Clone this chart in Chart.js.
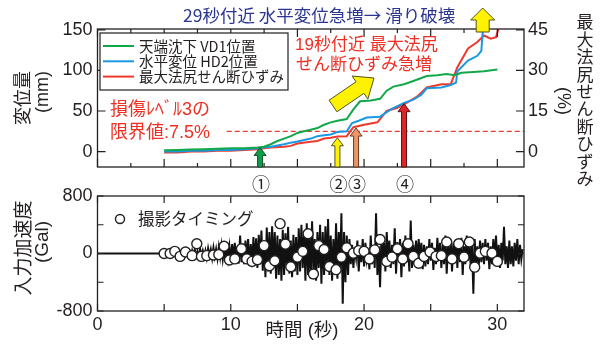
<!DOCTYPE html>
<html>
<head>
<meta charset="utf-8">
<script src="https://cdn.jsdelivr.net/npm/chart.js@4.4.1/dist/chart.umd.min.js"></script>
<style>
body { margin: 0; background: #fff; }
#wrap { position: relative; width: 600px; height: 345px; }
canvas { position: absolute; left: 0; top: 0; }
</style>
</head>
<body>
<div id="wrap">
  <canvas id="dispChart" width="600" height="345"></canvas>
  <canvas id="accChart" width="600" height="345"></canvas>
</div>
<script>
// ---- top panel: displacement (mm) and shear strain (%) ----
const greenTimes = [5, 6, 7, 8, 9, 10, 11, 12, 12.5, 13, 13.5, 14, 14.5, 15, 15.5, 16, 16.5, 17, 17.5, 18,
  18.7, 19.2, 19.7, 20.5, 21.2, 21.7, 22.2, 23, 23.7, 24.2, 24.7, 25.5, 26.2, 26.8, 27.3, 28.2, 29, 30];
const greenMm = [1.5, 2, 2.5, 3, 3.5, 4, 4, 5, 6, 9, 13, 16, 19, 23, 25, 27, 29, 33, 36, 38,
  40, 52, 62, 63, 65, 75, 80, 83, 87, 90, 93, 94, 95.5, 94, 97, 98, 99, 101];

const blueTimes = [5, 6, 7, 8, 9, 10, 11, 12, 12.5, 13, 14, 14.5, 15, 16, 16.5, 17, 17.5, 18,
  18.7, 19.1, 19.6, 20.2, 21.2, 22, 22.5, 23, 23.7, 24.3, 24.7, 25.8, 26.5, 26.9, 27, 27.8, 28.5, 28.8, 28.9, 29.1];
const blueMm = [0, 0, 1, 1, 2, 2, 3, 4, 5, 6, 9, 11, 12.5, 16, 19, 20, 21, 24,
  25, 35, 38, 42, 43, 52, 56, 60, 64, 70, 78, 79, 82, 85, 99, 112, 118, 124, 147, 165];

const redTimes = [5, 6, 7, 8, 9, 10, 11, 12, 12.5, 13, 14, 14.5, 15, 16, 16.5, 17, 17.5, 18,
  18.7, 19.2, 20, 21, 21.7, 22.5, 23, 24, 24.7, 25.8, 26.5, 27, 27.8, 28.5, 29, 29.5, 29.9, 30.1];
const redPct = [-0.3, -0.3, 0, 0, 0.3, 0.3, 0.6, 0.9, 1.2, 1.5, 1.8, 2.1, 3, 3.6, 3.9, 4.8, 5.1, 5.6,
  5.7, 9, 9.9, 10.8, 15, 16.2, 17.4, 20.4, 23.7, 24.9, 24.9, 31.2, 38.1, 40.5, 42.9, 41.7, 42.3, 45.6];

const thresholdPct = 7.5;
const thresholdFrom = 9.7;

// photo moments (1)-(4) and where their arrows point (mm)
const momentTimes = [12.2, 18.0, 19.4, 23.0];
const momentTipsMm = [5, 17, 29, 59];
const momentLabels = ["①", "②", "③", "④"];
const failureTime = 28.9;

// ---- bottom panel: input acceleration (Gal) ----
const quietTimes = [0, 5];
const quietAccel = [0, 0];
const accelStart = 5;
const accelStep = 0.1;
const accelGal = [
  0, 8, -12, 15, -5, 10, -18, 12, -8, 20,
  -15, 25, -10, 30, -25, 15, -20, 30, -35, 20,
  -30, 45, -20, 55, -40, 30, -50, 65, -30, 40,
  -50, 40, -60, 70, -30, 55, -65, 80, -45, 60,
  -70, 90, -50, 110, -80, 60, -100, 120, -70, 95,
  -100, 130, -80, 150, -110, 90, -140, 250, -120, 140,
  -150, 180, -100, 200, -170, 130, -190, 230, -160, 210,
  -200, 260, -150, 320, -240, 180, -330, 360, -250, 300,
  -280, 380, -200, 300, -350, 250, -300, 200, -380, 330,
  -300, 280, -200, 370, -280, 180, -330, 260, -250, 230,
  -300, 350, -250, 400, -200, 300, -380, 420, -300, 250,
  -350, 450, -250, 200, -380, 300, -200, 400, -420, 300,
  -300, 380, -200, 480, -300, 250, -380, 200, -280, 420,
  -350, 300, -200, 560, -700, 300, -400, 250, -300, 200,
  -150, 120, -200, 80, -60, 180, -250, 100, -120, 200,
  -180, 150, -80, 60, -220, 250, -150, 100, -200, 560,
  -300, 100, -470, 200, -100, 150, -250, 300, -120, 180,
  -200, 120, -150, 350, -280, 160, -100, 200, -330, 150,
  -180, 250, -120, 100, -250, 460, -200, 120, -150, 180,
  -120, 200, -80, 150, -220, 120, -180, 100, -150, 200,
  -100, 150, -230, 80, -150, 220, -80, 150, -200, 120,
  -150, 250, -280, 100, -120, 180, -250, 150, -100, 200,
  -200, 180, -120, 220, -300, 100, -150, 250, -100, 150,
  -180, 120, -560, 200, -150, 100, -200, 180, -120, 150,
  -150, 200, -100, 150, -220, 100, -150, 200, -80, 250,
  -180, 120, -200, 150, -100, 370, -150, 100, -200, 180,
  -150, 100, -180, 150, -100, 200, -150, 120, -80, 60
];

const photoTimes = [5.0, 5.45, 5.8, 6.2, 6.6, 7.1, 7.45, 7.8, 8.2, 8.7, 9.1, 9.5, 9.9, 10.3, 10.8, 11.2, 11.6, 12.0,
  12.5, 12.9, 13.3, 13.7, 14.1, 14.5, 15.0, 15.4, 15.8, 16.2, 16.6, 17.0, 17.4, 17.9, 18.3, 18.7, 19.2, 19.6,
  20.0, 20.4, 20.8, 21.2, 21.7, 22.1, 22.5, 22.9, 23.3, 23.7, 24.1, 24.5, 24.95, 25.4, 25.8, 26.2, 26.6, 27.1,
  27.5, 27.9, 28.3, 28.7, 29.1, 29.6, 30.0];
const photoGal = [0, 0, 30, -40, 20, -30, 135, -40, -30, -20, -15, 100, -90, -75, 65, -75, -110, -85,
  110, -170, -100, 415, 130, -185, -50, 30, 275, -285, 110, 55, -180, -225, -50, 80, 5, 40,
  30, -75, 50, 195, -110, -50, 65, -75, 135, -40, -135, -40, 20, -40, -30, 160, -75, 135,
  -50, 160, -190, 5, 30, 5, -110];

// ---- ticks ----
const dispTicks = [0, 25, 50, 75, 100, 125, 150];
const strainTicks = [0, 7.5, 15, 22.5, 30, 37.5, 45];
const topTimeTicks = [0, 2.5, 5, 7.5, 10, 12.5, 15, 17.5, 20, 22.5, 25, 27.5, 30];
const timeTicks = [0, 5, 10, 15, 20, 25, 30];
const accelTicks = [-800, -600, -400, -200, 0, 200, 400, 600, 800];

const INK = "#231f20";
const RED_TXT = "#ee2f24";
const NAVY = "#2c3592";
const NUM_FONT = "'Liberation Sans', 'Noto Sans CJK JP', sans-serif";
const JP_FONT = "'Noto Sans CJK JP', sans-serif";
const MIX_FONT = "'Liberation Sans', 'Noto Sans CJK JP', sans-serif";

const pairs = (xs, ys) => xs.map((x, i) => ({ x: x, y: ys[i] }));
const setTicks = list => axis => { axis.ticks = list.map(v => ({ value: v })); };

function drawInTicks(ctx, scale, area, side, lenFn) {
  ctx.beginPath();
  scale.ticks.forEach(t => {
    const p = scale.getPixelForValue(t.value);
    const len = lenFn(t.value);
    if (side === "left") { ctx.moveTo(area.left, p); ctx.lineTo(area.left + len, p); }
    if (side === "right") { ctx.moveTo(area.right, p); ctx.lineTo(area.right - len, p); }
    if (side === "bottom") { ctx.moveTo(p, area.bottom); ctx.lineTo(p, area.bottom - len); }
    if (side === "top") { ctx.moveTo(p, area.top); ctx.lineTo(p, area.top + len); }
  });
  ctx.stroke();
}

function upArrow(ctx, x, yBase, yTip, shaftW, headW, headH, fill, stroke) {
  ctx.beginPath();
  ctx.moveTo(x - shaftW / 2, yBase);
  ctx.lineTo(x - shaftW / 2, yTip + headH);
  ctx.lineTo(x - headW / 2, yTip + headH);
  ctx.lineTo(x, yTip);
  ctx.lineTo(x + headW / 2, yTip + headH);
  ctx.lineTo(x + shaftW / 2, yTip + headH);
  ctx.lineTo(x + shaftW / 2, yBase);
  ctx.closePath();
  ctx.fillStyle = fill;
  ctx.fill();
  ctx.strokeStyle = stroke;
  ctx.lineWidth = 1;
  ctx.stroke();
}

function slantArrow(ctx, tx, ty, px, py, shaftHalf, headHalf, headLen, fill, stroke) {
  const dx = px - tx, dy = py - ty, len = Math.hypot(dx, dy);
  const ux = dx / len, uy = dy / len, nx = -uy, ny = ux;
  const kx = px - ux * headLen, ky = py - uy * headLen;
  ctx.beginPath();
  ctx.moveTo(tx + nx * shaftHalf, ty + ny * shaftHalf);
  ctx.lineTo(kx + nx * shaftHalf, ky + ny * shaftHalf);
  ctx.lineTo(kx + nx * headHalf, ky + ny * headHalf);
  ctx.lineTo(px, py);
  ctx.lineTo(kx - nx * headHalf, ky - ny * headHalf);
  ctx.lineTo(kx - nx * shaftHalf, ky - ny * shaftHalf);
  ctx.lineTo(tx - nx * shaftHalf, ty - ny * shaftHalf);
  ctx.closePath();
  ctx.fillStyle = fill;
  ctx.fill();
  ctx.strokeStyle = stroke;
  ctx.lineWidth = 1;
  ctx.stroke();
}

function rotatedText(ctx, text, x, y, angle, font, color) {
  ctx.save();
  ctx.translate(x, y);
  ctx.rotate(angle);
  ctx.font = font;
  ctx.fillStyle = color;
  ctx.textAlign = "center";
  ctx.textBaseline = "middle";
  ctx.fillText(text, 0, 0);
  ctx.restore();
}

// decorations of the top panel
const topDecor = {
  id: "topDecor",
  afterDraw(chart) {
    const ctx = chart.ctx, a = chart.chartArea;
    const sx = chart.scales.x, sy = chart.scales.y;
    ctx.save();
    ctx.strokeStyle = INK;
    ctx.lineWidth = 1.3;
    ctx.strokeRect(a.left, a.top, a.width, a.height);
    ctx.lineWidth = 1.2;
    drawInTicks(ctx, sy, a, "left", v => v % 50 === 0 ? 8 : 5);
    drawInTicks(ctx, chart.scales.y2, a, "right", v => v % 15 === 0 ? 8 : 5);
    drawInTicks(ctx, sx, a, "bottom", v => v % 5 === 0 ? 8 : 4);
    drawInTicks(ctx, sx, a, "top", v => v % 5 === 0 ? 8 : 4);

    // legend box
    ctx.fillStyle = "#fff";
    ctx.fillRect(100, 33, 188, 57);
    ctx.strokeStyle = INK;
    ctx.lineWidth = 1.2;
    ctx.strokeRect(100, 33, 188, 57);
    ctx.font = "14.5px " + JP_FONT;
    ctx.textBaseline = "middle";
    ctx.textAlign = "left";
    chart.data.datasets.slice(0, 3).forEach((ds, i) => {
      const y = 46 + i * 15.3;
      ctx.strokeStyle = ds.borderColor;
      ctx.lineWidth = 2;
      ctx.beginPath();
      ctx.moveTo(103, y);
      ctx.lineTo(134, y);
      ctx.stroke();
      ctx.fillStyle = INK;
      ctx.fillText(ds.label, 139, y);
    });

    // annotations
    ctx.fillStyle = NAVY;
    ctx.font = "17.5px " + JP_FONT;
    ctx.fillText("29秒付近 水平変位急増→ 滑り破壊", 183, 15);
    ctx.fillStyle = RED_TXT;
    ctx.font = "17px " + MIX_FONT;
    ctx.fillText("19秒付近 最大法尻", 295, 45);
    ctx.fillText("せん断ひずみ急増", 296, 65);
    ctx.font = "18px " + MIX_FONT;
    ctx.fillText("損傷ﾚﾍﾞﾙ3の", 110, 110);
    ctx.fillText("限界値:7.5%", 110, 133);

    // arrows
    const arrowFill = ["#0c9e4a", "#fff200", "#ef9565", "#dc252b"];
    const arrowLine = ["#1c4a2a", "#55531c", "#6a3a1e", "#5a1010"];
    momentTimes.forEach((t, i) => {
      upArrow(ctx, sx.getPixelForValue(t), a.bottom, sy.getPixelForValue(momentTipsMm[i]),
        5, 12, 8, arrowFill[i], arrowLine[i]);
    });
    upArrow(ctx, sx.getPixelForValue(failureTime), 32, 8, 13, 24, 12, "#fff200", "#55531c");
    slantArrow(ctx, 333, 106, 374, 78, 7, 14, 17, "#fff200", "#55531c");

    // circled numbers
    ctx.fillStyle = INK;
    ctx.font = "18px " + JP_FONT;
    ctx.textAlign = "center";
    momentTimes.forEach((t, i) => {
      ctx.fillText(momentLabels[i], sx.getPixelForValue(t) + 1, 184);
    });

    // axis titles
    rotatedText(ctx, "変位量", 22, 98, -Math.PI / 2, "18px " + JP_FONT, INK);
    rotatedText(ctx, "(mm)", 43, 92, -Math.PI / 2, "18px " + NUM_FONT, INK);
    rotatedText(ctx, "(%)", 563, 101, Math.PI / 2, "18px " + NUM_FONT, INK);
    ctx.font = "17px " + JP_FONT;
    ctx.fillStyle = INK;
    ctx.textAlign = "center";
    Array.from("最大法尻せん断ひずみ").forEach((ch, i) => {
      ctx.fillText(ch, 585, 22 + i * 17.4);
    });
    ctx.restore();
  }
};

new Chart(document.getElementById("dispChart"), {
  type: "line",
  data: {
    datasets: [{
      label: "天端沈下 VD1位置",
      data: pairs(greenTimes, greenMm),
      borderColor: "#12a84a",
      yAxisID: "y"
    }, {
      label: "水平変位 HD2位置",
      data: pairs(blueTimes, blueMm),
      borderColor: "#1a98e4",
      yAxisID: "y"
    }, {
      label: "最大法尻せん断ひずみ",
      data: pairs(redTimes, redPct),
      borderColor: "#ee3a2e",
      yAxisID: "y2"
    }, {
      label: "limit",
      data: [{ x: thresholdFrom, y: thresholdPct }, { x: 32, y: thresholdPct }],
      borderColor: "#ee3a2e",
      borderWidth: 1.3,
      borderDash: [5, 3],
      yAxisID: "y2"
    }]
  },
  options: {
    responsive: false,
    animation: false,
    devicePixelRatio: 1,
    layout: { padding: { left: 0, right: 0, top: 29, bottom: 178 } },
    elements: { point: { radius: 0 }, line: { borderWidth: 2, tension: 0 } },
    plugins: { legend: { display: false }, tooltip: { enabled: false } },
    scales: {
      x: {
        type: "linear", min: 0, max: 32,
        afterBuildTicks: setTicks(topTimeTicks),
        afterFit: s => { s.height = 0; },
        ticks: { display: false },
        grid: { display: false, drawTicks: false },
        border: { display: false }
      },
      y: {
        position: "left", min: -19, max: 151,
        afterBuildTicks: setTicks(dispTicks),
        afterFit: s => { s.width = 97.5; },
        ticks: {
          callback: v => v % 50 === 0 ? v : "",
          color: INK, padding: 5, font: { family: NUM_FONT, size: 18 }
        },
        grid: { display: false, drawTicks: false },
        border: { display: false }
      },
      y2: {
        position: "right", min: -5.7, max: 45.3,
        afterBuildTicks: setTicks(strainTicks),
        afterFit: s => { s.width = 76; },
        ticks: {
          callback: v => v % 15 === 0 ? v : "",
          color: INK, padding: 4, font: { family: NUM_FONT, size: 18 }
        },
        grid: { display: false, drawTicks: false },
        border: { display: false }
      }
    }
  },
  plugins: [topDecor]
});

// decorations of the bottom panel
const bottomDecor = {
  id: "bottomDecor",
  afterDraw(chart) {
    const ctx = chart.ctx, a = chart.chartArea;
    ctx.save();
    ctx.strokeStyle = INK;
    ctx.lineWidth = 1.3;
    ctx.strokeRect(a.left, a.top, a.width, a.height);
    ctx.lineWidth = 1.2;
    drawInTicks(ctx, chart.scales.y, a, "left", () => 6);
    drawInTicks(ctx, chart.scales.y, a, "right", () => 6);
    drawInTicks(ctx, chart.scales.x, a, "bottom", () => 7);
    drawInTicks(ctx, chart.scales.x, a, "top", () => 7);

    // legend for photo timing
    ctx.beginPath();
    ctx.arc(120, 219, 4.5, 0, Math.PI * 2);
    ctx.fillStyle = "#fff";
    ctx.fill();
    ctx.strokeStyle = INK;
    ctx.lineWidth = 1.4;
    ctx.stroke();
    ctx.fillStyle = INK;
    ctx.font = "16.5px " + JP_FONT;
    ctx.textAlign = "left";
    ctx.textBaseline = "middle";
    ctx.fillText(chart.data.datasets[0].label, 138, 219);

    ctx.textAlign = "center";
    ctx.font = "18.5px " + MIX_FONT;
    ctx.fillText("時間 (秒)", 302, 331);
    rotatedText(ctx, "入力加速度", 23, 248, -Math.PI / 2, "19px " + JP_FONT, INK);
    rotatedText(ctx, "(Gal)", 43, 242, -Math.PI / 2, "19px " + NUM_FONT, INK);
    ctx.restore();
  }
};

new Chart(document.getElementById("accChart"), {
  type: "line",
  data: {
    datasets: [{
      label: "撮影タイミング",
      data: pairs(photoTimes, photoGal),
      showLine: false,
      pointRadius: 5,
      pointBackgroundColor: "#fff",
      pointBorderColor: INK,
      pointBorderWidth: 1.4,
      order: 0
    }, {
      label: "accel",
      data: accelGal.map((v, i) => ({ x: accelStart + i * accelStep, y: v })),
      borderColor: "#111",
      borderWidth: 2,
      pointRadius: 0,
      order: 1
    }, {
      label: "quiet",
      data: pairs(quietTimes, quietAccel),
      borderColor: "#111",
      borderWidth: 2,
      pointRadius: 0,
      order: 2
    }]
  },
  options: {
    responsive: false,
    animation: false,
    devicePixelRatio: 1,
    layout: { padding: { left: 0, right: 76, top: 196, bottom: 0 } },
    elements: { line: { tension: 0 } },
    plugins: { legend: { display: false }, tooltip: { enabled: false } },
    scales: {
      x: {
        type: "linear", min: 0, max: 32,
        afterBuildTicks: setTicks(timeTicks),
        afterFit: s => { s.height = 34; },
        ticks: {
          callback: v => v % 10 === 0 ? v : "",
          color: INK, padding: 3, maxRotation: 0, font: { family: NUM_FONT, size: 18 }
        },
        grid: { display: false, drawTicks: false },
        border: { display: false }
      },
      y: {
        min: -800, max: 800,
        afterBuildTicks: setTicks(accelTicks),
        afterFit: s => { s.width = 97.5; },
        ticks: {
          callback: v => v % 800 === 0 ? v : "",
          color: INK, padding: 5, font: { family: NUM_FONT, size: 18 }
        },
        grid: { display: false, drawTicks: false },
        border: { display: false }
      }
    }
  },
  plugins: [bottomDecor]
});
</script>
</body>
</html>
